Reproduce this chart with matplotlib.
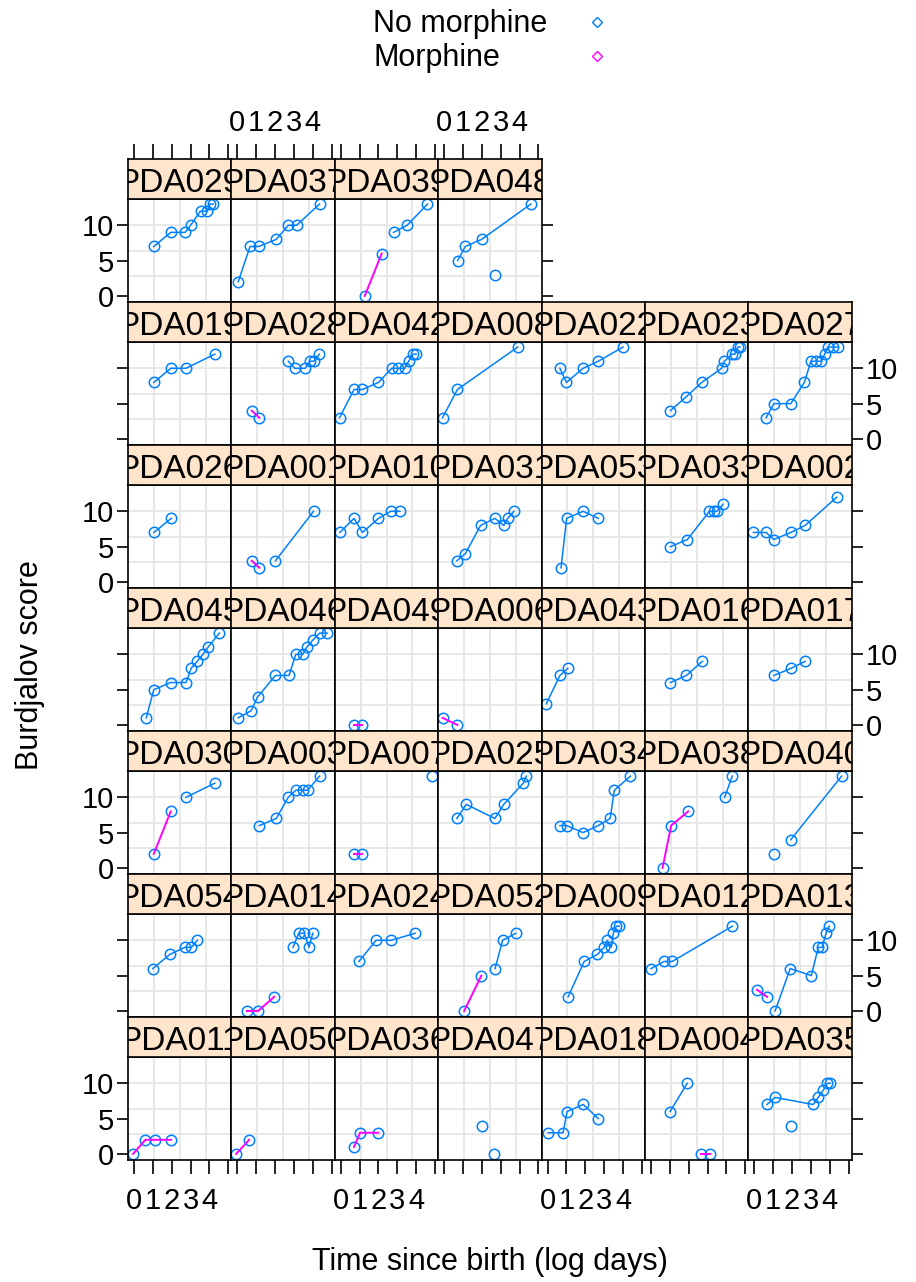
import numpy as np
import matplotlib.pyplot as plt
from matplotlib.lines import Line2D

plt.rcParams['font.family'] = ['Liberation Sans', 'DejaVu Sans']

# panel ids in display order (top row first)
panel_ids = [
    ["PDA029", "PDA037", "PDA039", "PDA048"],
    ["PDA019", "PDA028", "PDA042", "PDA008", "PDA022", "PDA023", "PDA027"],
    ["PDA026", "PDA001", "PDA010", "PDA031", "PDA053", "PDA033", "PDA002"],
    ["PDA045", "PDA046", "PDA049", "PDA006", "PDA043", "PDA016", "PDA017"],
    ["PDA030", "PDA003", "PDA007", "PDA025", "PDA034", "PDA038", "PDA040"],
    ["PDA054", "PDA014", "PDA024", "PDA052", "PDA009", "PDA012", "PDA013"],
    ["PDA011", "PDA050", "PDA036", "PDA047", "PDA018", "PDA004", "PDA035"],
]

# no morphine: log days / score
nm_x = {
    "PDA029": [1.05, 1.95, 2.72, 3.0, 3.53, 3.9, 4.02, 4.2],
    "PDA037": [0.04, 0.67, 1.12, 2.06, 2.7, 3.14, 4.36],
    "PDA039": [2.8, 3.52, 4.6],
    "PDA048": [0.71, 1.12, 1.98, 4.6],
    "PDA019": [1.05, 1.95, 2.76, 4.29],
    "PDA028": [2.7, 3.05, 3.6, 3.85, 4.05, 4.35],
    "PDA042": [-0.07, 0.7, 1.15, 2.0, 2.7, 3.05, 3.4, 3.6, 3.85, 4.0],
    "PDA008": [-0.09, 0.7, 3.9],
    "PDA022": [0.65, 1.0, 1.88, 2.69, 4.0],
    "PDA023": [1.03, 1.88, 2.69, 3.75, 3.9, 4.3, 4.45, 4.6, 4.72],
    "PDA027": [0.62, 1.03, 1.93, 2.65, 3.0, 3.28, 3.55, 3.73, 3.9, 4.18, 4.45],
    "PDA026": [1.05, 1.98],
    "PDA001": [2.02, 4.04],
    "PDA010": [-0.05, 0.7, 1.15, 2.0, 2.65, 3.14],
    "PDA031": [0.67, 1.12, 1.93, 2.69, 3.16, 3.37, 3.7],
    "PDA053": [0.71, 1.01, 1.88, 2.69],
    "PDA033": [1.03, 1.93, 3.1, 3.32, 3.5, 3.82],
    "PDA002": [-0.05, 0.62, 1.03, 1.93, 2.69, 4.37],
    "PDA045": [0.65, 1.05, 1.95, 2.76, 3.03, 3.35, 3.66, 3.93, 4.53],
    "PDA046": [0.04, 0.72, 1.08, 2.02, 2.74, 3.1, 3.47, 3.68, 4.0, 4.36, 4.76],
    "PDA043": [-0.07, 0.65, 1.07],
    "PDA016": [1.03, 1.88, 2.72],
    "PDA017": [1.03, 1.93, 2.69],
    "PDA030": [2.76, 4.29],
    "PDA003": [1.16, 2.06, 2.7, 3.1, 3.46, 3.73, 4.36],
    "PDA007": [4.82],
    "PDA025": [0.67, 1.17, 2.69, 3.16, 4.2, 4.36],
    "PDA034": [0.65, 1.01, 1.88, 2.69, 3.32, 3.54, 4.4],
    "PDA038": [3.91, 4.31],
    "PDA040": [1.93, 4.63],
    "PDA054": [1.0, 1.9, 2.7, 3.05, 3.36],
    "PDA014": [2.95, 3.25, 3.55, 3.8, 4.0],
    "PDA024": [0.96, 1.87, 2.67, 3.95],
    "PDA052": [2.7, 3.1, 3.8],
    "PDA009": [1.09, 1.94, 2.64, 3.0, 3.17, 3.38, 3.49, 3.65, 3.81],
    "PDA012": [0.0, 0.69, 1.12, 4.32],
    "PDA013": [1.1, 1.9, 3.02, 3.39, 3.6, 3.8, 3.97],
    "PDA047": [2.66],
    "PDA018": [0.02, 0.82, 1.03, 1.89, 2.69],
    "PDA004": [1.01, 1.92],
    "PDA035": [0.67, 1.1, 3.12, 3.39, 3.65, 3.87, 4.02],
}
nm_y = {
    "PDA029": [7, 9, 9, 10, 12, 12, 13, 13],
    "PDA037": [2, 7, 7, 8, 10, 10, 13],
    "PDA039": [9, 10, 13],
    "PDA048": [5, 7, 8, 13],
    "PDA019": [8, 10, 10, 12],
    "PDA028": [11, 10, 10, 11, 11, 12],
    "PDA042": [3, 7, 7, 8, 10, 10, 10, 11, 12, 12],
    "PDA008": [3, 7, 13],
    "PDA022": [10, 8, 10, 11, 13],
    "PDA023": [4, 6, 8, 10, 11, 12, 12, 13, 13],
    "PDA027": [3, 5, 5, 8, 11, 11, 11, 12, 13, 13, 13],
    "PDA026": [7, 9],
    "PDA001": [3, 10],
    "PDA010": [7, 9, 7, 9, 10, 10],
    "PDA031": [3, 4, 8, 9, 8, 9, 10],
    "PDA053": [2, 9, 10, 9],
    "PDA033": [5, 6, 10, 10, 10, 11],
    "PDA002": [7, 7, 6, 7, 8, 12],
    "PDA045": [1, 5, 6, 6, 8, 9, 10, 11, 13],
    "PDA046": [1, 2, 4, 7, 7, 10, 10, 11, 12, 13, 13],
    "PDA043": [3, 7, 8],
    "PDA016": [6, 7, 9],
    "PDA017": [7, 8, 9],
    "PDA030": [10, 12],
    "PDA003": [6, 7, 10, 11, 11, 11, 13],
    "PDA007": [13],
    "PDA025": [7, 9, 7, 9, 12, 13],
    "PDA034": [6, 6, 5, 6, 7, 11, 13],
    "PDA038": [10, 13],
    "PDA040": [4, 13],
    "PDA054": [6, 8, 9, 9, 10],
    "PDA014": [9, 11, 11, 9, 11],
    "PDA024": [7, 10, 10, 11],
    "PDA052": [6, 10, 11],
    "PDA009": [2, 7, 8, 9, 10, 9, 11, 12, 12],
    "PDA012": [6, 7, 7, 12],
    "PDA013": [0, 6, 5, 9, 9, 11, 12],
    "PDA047": [0],
    "PDA018": [3, 3, 6, 7, 5],
    "PDA004": [6, 10],
    "PDA035": [7, 8, 7, 8, 9, 10, 10],
}

# morphine
m_x = {
    "PDA039": [1.27, 2.17],
    "PDA048": [2.7],
    "PDA028": [0.76, 1.16],
    "PDA001": [0.76, 1.16],
    "PDA049": [0.7, 1.15],
    "PDA006": [-0.09, 0.7],
    "PDA030": [1.05, 1.95],
    "PDA007": [0.7, 1.15],
    "PDA038": [0.61, 1.07, 1.97],
    "PDA040": [1.03],
    "PDA014": [0.5, 1.1, 1.95],
    "PDA052": [1.06, 1.97],
    "PDA013": [0.14, 0.67],
    "PDA011": [-0.05, 0.6, 1.12, 1.97],
    "PDA050": [-0.07, 0.62],
    "PDA036": [0.7, 1.02, 1.98],
    "PDA047": [2.01],
    "PDA004": [2.67, 3.14],
    "PDA035": [1.95],
}
m_y = {
    "PDA039": [0, 6],
    "PDA048": [3],
    "PDA028": [4, 3],
    "PDA001": [3, 2],
    "PDA049": [0, 0],
    "PDA006": [1, 0],
    "PDA030": [2, 8],
    "PDA007": [2, 2],
    "PDA038": [0, 6, 8],
    "PDA040": [2],
    "PDA014": [0, 0, 2],
    "PDA052": [0, 5],
    "PDA013": [3, 2],
    "PDA011": [0, 2, 2, 2],
    "PDA050": [0, 2],
    "PDA036": [1, 3, 3],
    "PDA047": [4],
    "PDA004": [0, 0],
    "PDA035": [4],
}

x_ticks = [0, 1, 2, 3, 4, 5]
x_ticklabels = ["0", "1", "2", "3", "4", ""]
y_ticks = [0, 5, 10]
legend_labels = ["No morphine", "Morphine"]

blue = "#0080ff"
pink = "#ff00ff"
strip_bg = "#ffe5cc"
grid_col = "#e6e6e6"

W, H = 916, 1282
fig = plt.figure(figsize=(W / 100, H / 100), dpi=100)


def rect(x0, y0, w, h):
    return [x0 / W, 1 - (y0 + h) / H, w / W, h / H]


left0, pw = 128, 103.4
top0, pitch, strip_h, plot_h = 159.3, 143.0, 39.5, 103.5
xlim = (-0.32, 5.17)
ylim = (-0.9, 13.75)
fs = 22
tfs = 21

nrows = len(panel_ids)
for r, row in enumerate(panel_ids):
    for c, pid in enumerate(row):
        x0 = left0 + c * pw
        y0 = top0 + r * pitch
        ax = fig.add_axes(rect(x0, y0 + strip_h, pw, plot_h))
        sx = fig.add_axes(rect(x0, y0, pw, strip_h))

        ax.set_xlim(*xlim)
        ax.set_ylim(*ylim)
        for k in (1, 2, 3):
            ax.axvline(xlim[0] + k * (xlim[1] - xlim[0]) / 4, color=grid_col, lw=1.3, zorder=0)
            ax.axhline(ylim[0] + k * (ylim[1] - ylim[0]) / 4, color=grid_col, lw=1.3, zorder=0)

        if pid in nm_x:
            ax.plot(nm_x[pid], nm_y[pid], color=blue, lw=1.1, marker="o", ms=7.5,
                    mfc="none", mec=blue, mew=1.1, zorder=2)
        if pid in m_x:
            ax.plot(m_x[pid], m_y[pid], color=pink, lw=1.4, zorder=3)
            ax.plot(m_x[pid], m_y[pid], ls="none", marker="o", ms=7.5,
                    mfc="none", mec=blue, mew=1.1, zorder=2)

        for sp in ax.spines.values():
            sp.set_linewidth(1.2)
        ax.set_xticks(x_ticks)
        ax.set_xticklabels(x_ticklabels)
        ax.set_yticks(y_ticks)

        last_in_row = c == len(row) - 1
        ax.tick_params(axis="y", direction="out", width=1.2, length=8, labelsize=tfs, pad=2,
                       left=(c == 0), labelleft=(c == 0 and r % 2 == 0),
                       right=last_in_row, labelright=(last_in_row and r % 2 == 1))
        ax.tick_params(axis="x", direction="out", width=1.2, length=10, labelsize=tfs,
                       top=False, labeltop=False, bottom=(r == nrows - 1),
                       labelbottom=(r == nrows - 1 and c % 2 == 0), pad=9)

        sx.set_facecolor(strip_bg)
        sx.set_xlim(*xlim)
        sx.set_yticks([])
        for sp in sx.spines.values():
            sp.set_linewidth(1.2)
        if r == 0:
            sx.set_xticks(x_ticks)
            sx.set_xticklabels(x_ticklabels)
            sx.tick_params(axis="x", top=True, bottom=False, labeltop=(c % 2 == 1),
                           labelbottom=False, direction="out", width=1.2, length=11,
                           labelsize=tfs, pad=5)
        else:
            sx.set_xticks([])
        sx.text(0.5, 0.16, pid, transform=sx.transAxes, ha="center", va="baseline",
                fontsize=24, clip_on=True)

# key at the top: text then symbol
for i, (lab, col) in enumerate(zip(legend_labels, [blue, pink])):
    yy = 1 - (24 + 34 * i) / H
    fig.text(373 / W, yy, lab, ha="left", va="center", fontsize=fs)
    fig.add_artist(Line2D([597 / W], [yy + 2 / H], ls="none", marker="D", ms=5.5,
                          mfc="none", mec=col, mew=1.0, transform=fig.transFigure))

fig.text(30 / W, 1 - 665 / H, "Burdjalov score", rotation=90, ha="center",
         va="center", fontsize=fs)
fig.text(490 / W, 1 - 1262 / H, "Time since birth (log days)", ha="center",
         va="center", fontsize=fs)

fig.savefig("out.png", dpi=100)
